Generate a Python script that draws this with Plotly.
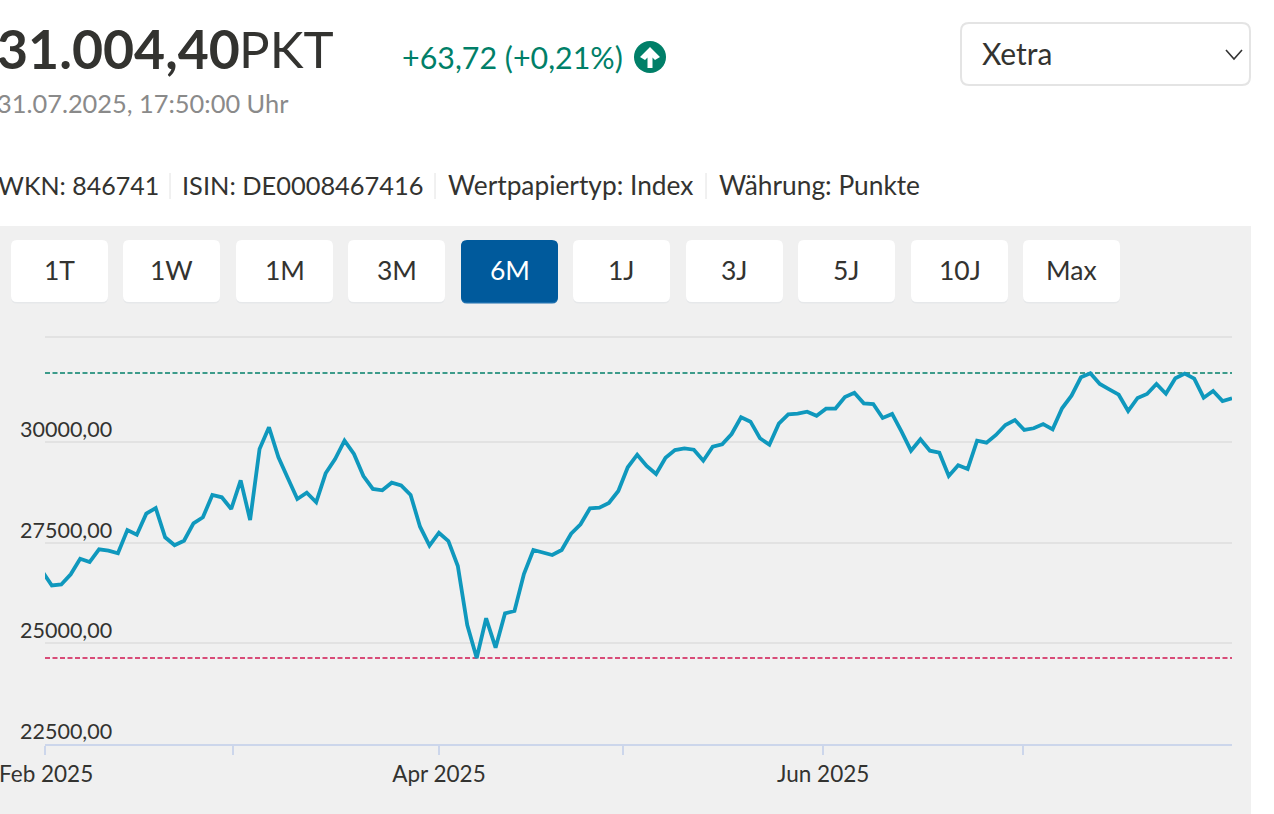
import pandas as pd
import plotly.graph_objects as go

# ---------- data ----------
holidays = ["2025-04-18", "2025-04-21", "2025-05-01"]
dates = [d for d in pd.bdate_range("2025-01-31", "2025-07-31") if d.strftime("%Y-%m-%d") not in holidays]
values = [
    26780, 26433, 26458, 26711, 27098, 27016, 27331, 27297, 27232, 27810,
    27694, 28215, 28356, 27629, 27431, 27545, 27976, 28125, 28679, 28622,
    28331, 29043, 28058, 29820, 30359, 29614, 29093, 28579, 28736, 28498,
    29217, 29572, 30026, 29696, 29150, 28828, 28795, 28984, 28919, 28679,
    27892, 27421, 27743, 27537, 26917, 25453, 24634, 25619, 24890, 25743,
    25800, 26718, 27314, 27257, 27190, 27314, 27718, 27952, 28349, 28364,
    28480, 28778, 29366, 29679, 29398, 29200, 29604, 29795, 29837, 29803,
    29530, 29877, 29937, 30192, 30607, 30498, 30086, 29927, 30448, 30681,
    30696, 30746, 30646, 30820, 30825, 31110, 31217, 30954, 30937, 30589,
    30689, 30249, 29778, 30061, 29778, 29728, 29150, 29416, 29324, 30026,
    29977, 30168, 30416, 30540, 30292, 30334, 30440, 30309, 30830, 31143,
    31599, 31700, 31433, 31301, 31168, 30763, 31086, 31185, 31433, 31192,
    31574, 31690, 31565, 31093, 31259, 31011, 31078,
]
high_value = 31706
low_value = 24634
y_ticks = [22500, 25000, 27500, 30000, 32600]
y_tick_labels = ["22500,00", "25000,00", "27500,00", "30000,00", ""]
x_ticks = ["2025-01-31 06:36", "2025-02-28 04:34", "2025-04-01 00:00",
           "2025-04-30 12:00", "2025-05-30 16:48", "2025-06-30 21:36"]
first_x_label = "Feb 2025"
x_tick_labels = ["", "", "Apr 2025", "", "Jun 2025", ""]
x_range = ["2025-01-31 06:36", "2025-07-31 00:00"]
y_range = [22500, 32773]
buttons = ["1T", "1W", "1M", "3M", "6M", "1J", "3J", "5J", "10J", "Max"]
active_button = "6M"

# ---------- page geometry ----------
W, H = 1274, 814
L, R, T, B = 45, 1232, 330, 744
FONT = "Lato"
DARK = "#333330"
GREEN = "#007f68"
RED = "#cf1650"
LINE = "#0f98bd"
GRID = "#e2e2e2"
AXIS = "#ccd6eb"
PANEL = "#f0f0f0"
ACTIVE = "#005a9c"


def px(x):
    return (x - L) / (R - L)


def py(y):
    return (B - y) / (B - T)


def rounded(x0, y0, x1, y1, r):
    a, b, c, d = px(x0), px(x1), py(y0), py(y1)
    rx, ry = r / (R - L), r / (B - T)
    return (f"M {a+rx} {c} L {b-rx} {c} Q {b} {c} {b} {c-ry} L {b} {d+ry} Q {b} {d} {b-rx} {d} "
            f"L {a+rx} {d} Q {a} {d} {a} {d+ry} L {a} {c-ry} Q {a} {c} {a+rx} {c} Z")


def poly(points):
    return "M " + " L ".join(f"{px(x)} {py(y)}" for x, y in points)


shapes = []
annotations = []


def text(x, y, s, size, color=DARK, anchor="left", weight=None):
    label = f"<b>{s}</b>" if weight else s
    annotations.append(dict(xref="paper", yref="paper", x=px(x), y=py(y), text=label, showarrow=False,
                            xanchor=anchor, yanchor="middle", xshift=0, yshift=0,
                            font=dict(family=FONT, size=size, color=color), borderpad=0, borderwidth=0))


def path(d, fill=None, line=None, width=0):
    shapes.append(dict(type="path", xref="paper", yref="paper", path=d, layer="below",
                       fillcolor=fill or "rgba(0,0,0,0)",
                       line=dict(color=line or "rgba(0,0,0,0)", width=width)))


# panel
shapes.append(dict(type="rect", xref="paper", yref="paper", x0=px(0), x1=px(1251), y0=py(226), y1=py(814),
                   fillcolor=PANEL, line=dict(width=0), layer="below"))

# range buttons
button_lefts = [11, 123, 236, 348, 461, 573, 686, 798, 911, 1023]
for name, left in zip(buttons, button_lefts):
    is_active = name == active_button
    path(rounded(left, 241, left + 97, 303.5, 6), fill="#e6e8ea" if not is_active else "#1c6fae")
    path(rounded(left, 240, left + 97, 302, 6), fill=ACTIVE if is_active else "#ffffff")
    text(left + 48.5, 270, name, 26.5, color="#ffffff" if is_active else DARK, anchor="center")

# exchange select
path(rounded(961, 23, 1250, 85, 8), fill="#ffffff", line="#e4e4e4", width=2)
path(poly([(1226, 50), (1234, 59), (1242, 50)]), line="#333333", width=1.6)
text(982, 53, "Xetra", 30)

# header
text(-3, 48, "31.004,40", 53.6, weight=True)
text(238.5, 48, "PKT", 51)
text(402, 56.5, "+63,72 (+0,21%)", 30.4, color=GREEN)
text(-3, 102.5, "31.07.2025, 17:50:00 Uhr", 25.4, color="#8a8a8a")
text(-2, 184.5, "WKN: 846741", 25)
text(182, 184.5, "ISIN: DE0008467416", 25.4)
text(448, 184.5, "Wertpapiertyp: Index", 26.3)
text(719, 184.5, "Währung: Punkte", 26.3)
for sep in (170, 435, 706):
    shapes.append(dict(type="line", xref="paper", yref="paper", x0=px(sep), x1=px(sep), y0=py(173), y1=py(199),
                       line=dict(color="#e2e2e2", width=1), layer="below"))

# the first month label hangs past the page edge, where the axis would drop it
text(46, 773, first_x_label, 22.5, anchor="center")

# up arrow badge
cx, cy, rad = 650, 57, 16
shapes.append(dict(type="circle", xref="paper", yref="paper", x0=px(cx - rad), x1=px(cx + rad), y0=py(cy - rad),
                   y1=py(cy + rad), fillcolor=GREEN, line=dict(width=0), layer="below"))
path(poly([(cx, 47), (cx + 10, 57), (cx + 5, 60), (cx + 2.5, 57.5), (cx + 2.5, 68), (cx - 2.5, 68), (cx - 2.5, 57.5), (cx - 5, 60), (cx - 10, 57)]) + " Z",
     fill="#ffffff")

# high / low reference lines
for level, col in ((high_value, GREEN), (low_value, RED)):
    shapes.append(dict(type="line", xref="paper", yref="y", x0=0, x1=1, y0=level, y1=level,
                       line=dict(color=col, width=1.5, dash="5px,2.5px"), layer="below"))

# value labels sit above their grid lines
for v, lab in zip(y_ticks, y_tick_labels):
    if lab:
        annotations.append(dict(xref="paper", yref="y", x=px(18), y=v, yshift=13, text=lab, showarrow=False,
                                xanchor="left", yanchor="middle",
                                font=dict(family=FONT, size=21.5, color=DARK)))

fig = go.Figure(go.Scatter(x=dates, y=values, mode="lines", hoverinfo="skip",
                           line=dict(color=LINE, width=3.8, shape="linear")))
fig.update_layout(
    width=W, height=H, autosize=False,
    margin=dict(l=L, r=W - R, t=T, b=H - B, pad=0, autoexpand=False),
    paper_bgcolor="#ffffff", plot_bgcolor=PANEL, showlegend=False,
    font=dict(family=FONT, color=DARK),
    shapes=shapes, annotations=annotations,
    xaxis=dict(type="date", range=x_range, tickmode="array", tickvals=x_ticks, ticktext=x_tick_labels,
               rangebreaks=[dict(bounds=["sat", "mon"]), dict(values=holidays)], automargin=False,
               showgrid=False, zeroline=False, showline=True, linecolor=AXIS, linewidth=1.5,
               ticks="outside", ticklen=9, tickcolor=AXIS, tickwidth=1.5,
               tickfont=dict(family=FONT, size=22.5, color=DARK), ticklabelstandoff=0),
    yaxis=dict(range=y_range, tickmode="array", tickvals=y_ticks, ticktext=[""] * len(y_ticks), automargin=False,
               showgrid=True, gridcolor=GRID, gridwidth=1.5, zeroline=False, showline=False, ticks=""),
)
fig.write_html("out.html", config={"displayModeBar": False}, post_script="document.body.style.margin='0';document.body.style.overflow='hidden';")
